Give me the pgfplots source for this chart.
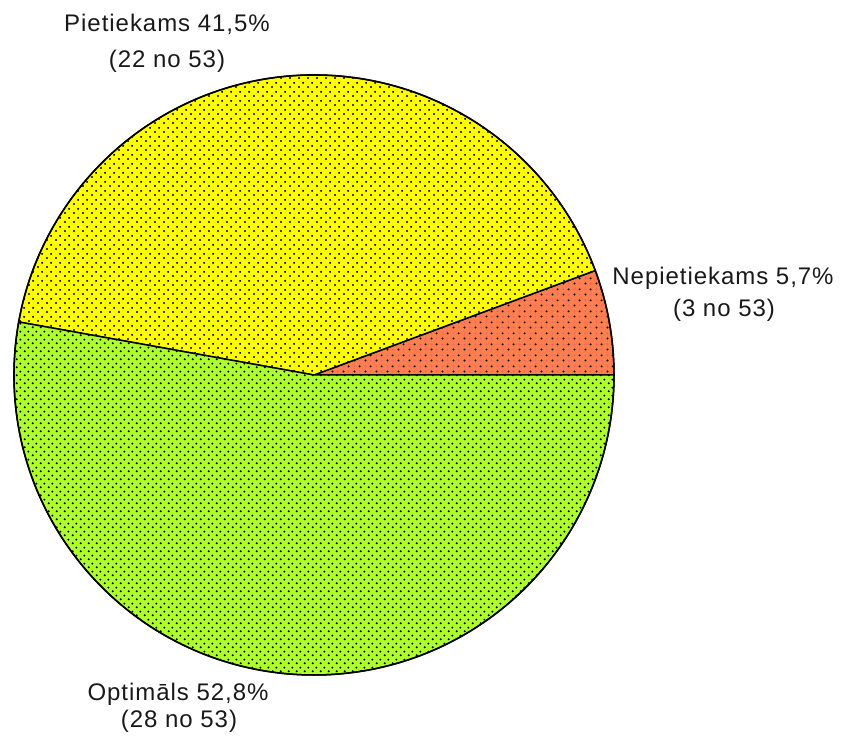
\documentclass[border=0pt]{standalone}
\usepackage{pgfplots}
\pgfplotsset{compat=1.18}
\usepackage{pgfplotstable}
\usepackage{fontspec}
\setmainfont[LetterSpace=4]{Liberation Sans}
\usetikzlibrary{patterns.meta}
\definecolor{cNep}{RGB}{255,127,80}
\definecolor{cPie}{RGB}{255,255,0}
\definecolor{cOpt}{RGB}{173,255,47}
\definecolor{cPink}{RGB}{245,95,105}
\tikzdeclarepattern{name=dotsY,type=uncolored,bottom left={(0bp,0bp)},top right={(9bp,9bp)},tile size={(9bp,9bp)},
  code={\fill (2.25bp,2.25bp) circle (1.2bp); \fill (6.75bp,6.75bp) circle (1.2bp);}}
\tikzdeclarepattern{name=dotsG,type=uncolored,bottom left={(0bp,0bp)},top right={(8bp,8bp)},tile size={(8bp,8bp)},
  code={\fill (2bp,2bp) circle (1.2bp); \fill (6bp,6bp) circle (1.2bp);}}
\tikzdeclarepattern{name=dotsC,type=colored,bottom left={(0bp,0bp)},top right={(11bp,11bp)},tile size={(11bp,11bp)},
  code={\fill[black] (2.75bp,2.75bp) circle (1.2bp); \fill[black] (8.25bp,8.25bp) circle (1.2bp);
        \fill[cPink] (8.25bp,2.75bp) circle (1bp); \fill[cPink] (2.75bp,8.25bp) circle (1bp);}}
\pgfplotstableread{
name count
Nepietiekams 3
Pietiekams 22
Optimals 28
}\piedata
\begin{document}
\begin{tikzpicture}
\begin{axis}[x=1bp,y=1bp,xmin=0,xmax=842,ymin=0,ymax=737,hide axis,clip=false,scale only axis]
\pgfplotstablegetelem{0}{count}\of\piedata \let\va\pgfplotsretval
\pgfplotstablegetelem{1}{count}\of\piedata \let\vb\pgfplotsretval
\pgfplotstablegetelem{2}{count}\of\piedata \let\vc\pgfplotsretval
\pgfmathsetmacro{\tot}{\va+\vb+\vc}
\pgfmathsetmacro{\aA}{360*\va/\tot}
\pgfmathsetmacro{\aB}{\aA+360*\vb/\tot}
\def\R{300bp}
% Nepietiekams
\filldraw[fill=cNep,draw=black,line width=1.5bp,postaction={pattern=dotsC}]
  (axis cs:314,362) -- ++(0:\R) arc[start angle=0,end angle=\aA,radius=\R] -- cycle;
% Pietiekams
\filldraw[fill=cPie,draw=black,line width=1.5bp,postaction={pattern=dotsY,pattern color=black}]
  (axis cs:314,362) -- ++(\aA:\R) arc[start angle=\aA,end angle=\aB,radius=\R] -- cycle;
% Optimals
\filldraw[fill=cOpt,draw=black,line width=1.5bp,postaction={pattern=dotsG,pattern color=black}]
  (axis cs:314,362) -- ++(\aB:\R) arc[start angle=\aB,end angle=360,radius=\R] -- cycle;
\draw[black,line width=1.5bp] (axis cs:314,362) circle (\R);
\begin{scope}[every node/.style={anchor=base,inner sep=0pt,font=\fontsize{24bp}{28bp}\selectfont,text=black!90}]
\node at (axis cs:167,705) {Pietiekams 41,5\%};
\node at (axis cs:167,669) {(22 no 53)};
\node at (axis cs:723,452) {Nepietiekams 5,7\%};
\node at (axis cs:724,420) {(3 no 53)};
\node at (axis cs:178,37) {Optimāls 52,8\%};
\node at (axis cs:179,10) {(28 no 53)};
\end{scope}
\end{axis}
\pgfresetboundingbox
\path (0,0) rectangle (842bp,737bp);
\end{tikzpicture}
\end{document}
